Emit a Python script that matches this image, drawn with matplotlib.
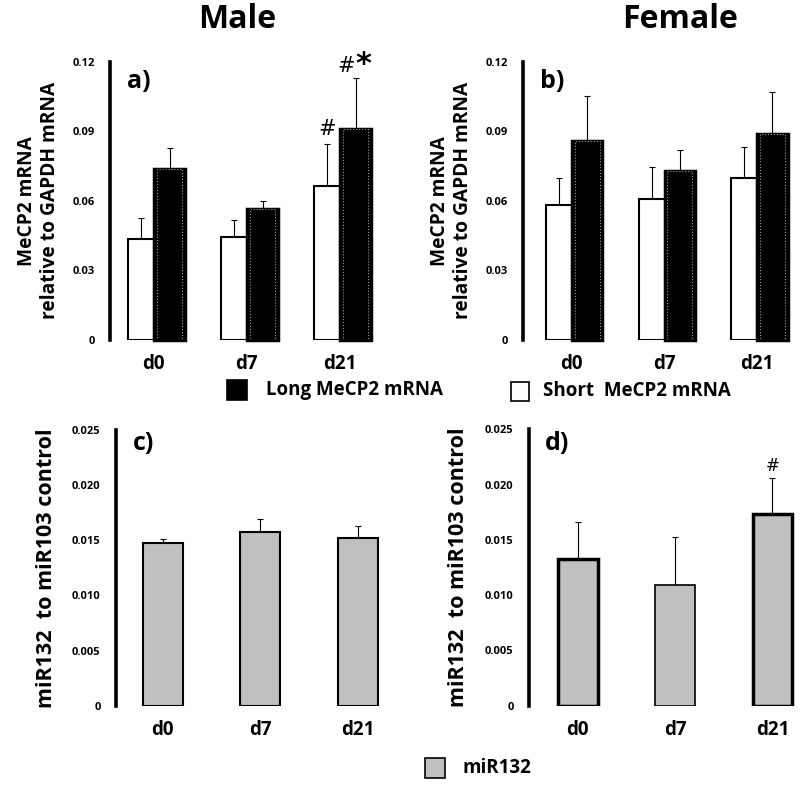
import matplotlib
matplotlib.use("Agg")
import matplotlib.pyplot as plt
from matplotlib.patches import Rectangle
import numpy as np

plt.rcParams['font.family'] = ['Open Sans', 'DejaVu Sans']
plt.rcParams['font.weight'] = 'bold'

days = ["d0", "d7", "d21"]

# Male MeCP2 (panel a)
male_short = [0.0435, 0.0446, 0.0665]
male_short_err = [0.0090, 0.0072, 0.0181]
male_long = [0.0737, 0.0564, 0.0911]
male_long_err = [0.0093, 0.0037, 0.0219]

# Female MeCP2 (panel b)
female_short = [0.0583, 0.0610, 0.0698]
female_short_err = [0.0117, 0.0138, 0.0136]
female_long = [0.0856, 0.0727, 0.0888]
female_long_err = [0.0194, 0.0093, 0.0182]

# miR132 (panels c, d)
male_mir = [0.01477, 0.0157, 0.01516]
male_mir_err = [0.0003, 0.0012, 0.0011]
female_mir = [0.0133, 0.0109, 0.0173]
female_mir_err = [0.0033, 0.0044, 0.0033]

mecp2_ticks = [0, 0.03, 0.06, 0.09, 0.12]
mecp2_ticklabels = ["0", "0.03", "0.06", "0.09", "0.12"]
mir_ticks = [0, 0.005, 0.010, 0.015, 0.020, 0.025]
mir_ticklabels = ["0", "0.005", "0.010", "0.015", "0.020", "0.025"]

fig = plt.figure(figsize=(8, 7.85), dpi=100)

def style_axis(ax, ticks, labels, ylim):
    ax.set_ylim(*ylim)
    for s in ["top", "right", "bottom"]:
        ax.spines[s].set_visible(False)
    ax.spines["left"].set_linewidth(2.6)
    ax.set_yticks(ticks)
    ax.set_yticklabels(labels, fontsize=8, fontweight='bold')
    ax.tick_params(axis='y', length=0, pad=11)
    ax.tick_params(axis='x', length=0, pad=10)
    ax.set_xticks(range(3))
    ax.set_xticklabels(days, fontsize=13.5, fontweight='bold')
    ax.patch.set_alpha(0)

def mecp2_panel(rect, xlim, short, short_err, long_, long_err, letter):
    ax = fig.add_axes(rect)
    x = np.arange(3)
    w = 0.28
    ax.bar(x - 0.135, short, w, color='white', edgecolor='black', linewidth=1.5, zorder=2)
    ax.errorbar(x - 0.135, short, yerr=[np.zeros(3), short_err], fmt='none',
                ecolor='black', elinewidth=0.8, capsize=2, capthick=0.8, zorder=1)
    ax.bar(x + 0.17, long_, 0.33, color='black', edgecolor='black', linewidth=2.5,
           zorder=3, clip_on=False)
    ax.bar(x + 0.17, long_, 0.27, color='none', edgecolor='#9a9a9a', linewidth=0.8,
           linestyle=':', zorder=4)
    ax.errorbar(x + 0.17, long_, yerr=[np.zeros(3), long_err], fmt='none',
                ecolor='black', elinewidth=0.8, capsize=2, capthick=0.8, zorder=2)
    ax.set_xlim(*xlim)
    style_axis(ax, mecp2_ticks, mecp2_ticklabels, (0, 0.12))
    ax.text(0.06, 0.93, letter, transform=ax.transAxes, fontsize=18,
            fontweight='bold', va='center', ha='left')
    ax.set_ylabel("MeCP2 mRNA\nrelative to GAPDH mRNA", fontsize=13.8,
                  fontweight='bold', labelpad=9, linespacing=1.2)
    return ax

def mir_panel(rect, xlim, vals, errs, lws, letter):
    ax = fig.add_axes(rect)
    x = np.arange(3)
    ax.bar(x, vals, 0.41, color='#c0c0c0', edgecolor='black', linewidth=lws, zorder=2)
    ax.errorbar(x, vals, yerr=[np.zeros(3), errs], fmt='none', ecolor='black',
                elinewidth=0.8, capsize=2, capthick=0.8, zorder=1)
    ax.set_xlim(*xlim)
    style_axis(ax, mir_ticks, mir_ticklabels, (0, 0.025))
    ax.text(0.06, 0.95, letter, transform=ax.transAxes, fontsize=18,
            fontweight='bold', va='center', ha='left')
    ax.set_ylabel("miR132  to miR103 control", fontsize=15.5,
                  fontweight='bold', labelpad=11)
    return ax

ax_a = mecp2_panel([0.1375, 0.5669, 0.35, 0.3545], (-0.47, 2.54),
                   male_short, male_short_err, male_long, male_long_err, "a)")
ax_b = mecp2_panel([0.654, 0.5669, 0.344, 0.3545], (-0.52, 2.45),
                   female_short, female_short_err, female_long, female_long_err, "b)")
ax_c = mir_panel([0.145, 0.1006, 0.35, 0.3522], (-0.48, 2.39),
                 male_mir, male_mir_err, [1.5, 1.5, 1.5], "c)")
ax_d = mir_panel([0.661, 0.101, 0.3375, 0.3522], (-0.5, 2.27),
                 female_mir, female_mir_err, [2.5, 1.2, 2.5], "d)")

# significance marks
ax_a.text(2 - 0.135, male_short[2] + male_short_err[2] + 0.002, "#", ha='center',
          va='bottom', fontsize=15, fontweight='normal', family=['DejaVu Sans'])
ax_a.text(2 + 0.07, male_long[2] + male_long_err[2] + 0.001, "#", ha='center',
          va='bottom', fontsize=15, fontweight='normal', family=['DejaVu Sans'])
ax_a.text(2 + 0.25, male_long[2] + male_long_err[2] - 0.0005, "*", ha='center',
          va='bottom', fontsize=22, fontweight='bold', family=['DejaVu Sans'])
ax_d.text(2, female_mir[2] + female_mir_err[2] + 0.0003, "#", ha='center',
          va='bottom', fontsize=12, fontweight='normal', family=['DejaVu Sans'])

# titles
fig.text(237 / 800, 1 - 19 / 785, "Male", ha='center', va='center', fontsize=23,
         fontweight='bold')
fig.text(680 / 800, 1 - 19 / 785, "Female", ha='center', va='center', fontsize=23,
         fontweight='bold')

# legends
def legend_item(x0, y0, w, h, color, label, tx):
    fig.add_artist(Rectangle((x0 / 800, 1 - (y0 + h) / 785), w / 800, h / 785,
                             facecolor=color, edgecolor='black', linewidth=1.2,
                             transform=fig.transFigure))
    fig.text(tx / 800, 1 - (y0 + h / 2) / 785, label, ha='left', va='center',
             fontsize=13.5, fontweight='bold')

legend_item(227, 380, 20, 20, 'black', "Long MeCP2 mRNA", 266)
legend_item(511, 382, 18, 19, 'white', "Short  MeCP2 mRNA", 543)
legend_item(425, 758, 20, 20, '#c0c0c0', "miR132", 462)

fig.savefig("out.png", dpi=100)
